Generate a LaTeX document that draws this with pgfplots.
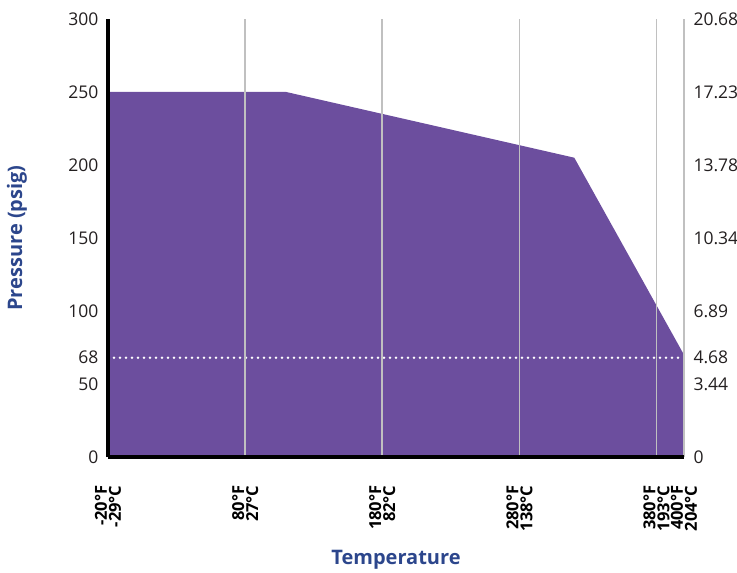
\documentclass[border=0pt]{standalone}
\usepackage{fontspec}
\setmainfont{Open Sans}
\usepackage{pgfplots}
\pgfplotsset{compat=1.18}

\definecolor{fillpurple}{RGB}{108,78,158}
\definecolor{labelblue}{RGB}{44,70,140}
\definecolor{gridgray}{RGB}{192,192,192}
\definecolor{tickblack}{RGB}{35,31,32}

\pgfplotsset{
  pressure/.style={
    scale only axis,
    width=576bp, height=438bp,
    xmin=-20, xmax=400, ymin=0, ymax=300,
    major tick length=0pt,
    /pgf/number format/assume math mode=true,
    yticklabel style={font=\fontsize{17.5bp}{19bp}\selectfont, text=tickblack},
  },
}

\begin{document}
\begin{tikzpicture}
\useasboundingbox (-108bp,-116bp) rectangle (629bp,457bp);

% main chart: allowable pressure vs temperature
\begin{axis}[
  pressure,
  axis x line*=bottom, axis y line*=left,
  axis line style={-, line width=4bp, black},
  xtick={-20,80,180,280,380,400},
  xticklabels={-20°F\\-29°C, 80°F\\27°C, 180°F\\82°C, 280°F\\138°C, 380°F\\193°C, 400°F\\204°C},
  xticklabel style={rotate=90, anchor=east, align=right,
    font=\bfseries\fontsize{16.5bp}{14bp}\selectfont, text=black},
  xticklabel shift=25bp,
  ytick={0,50,68,100,150,200,250,300},
  yticklabels={0,50,68,100,150,200,250,300},
  yticklabel shift=6bp,
  xmajorgrids,
  major grid style={gridgray, line width=1.6bp},
  axis on top,
  xlabel={Temperature},
  ylabel={Pressure (psig)},
  label style={font=\bfseries\fontsize{20bp}{24bp}\selectfont, text=labelblue},
  xlabel style={at={(axis description cs:0.5,-0.235)}, anchor=center},
  ylabel style={at={(axis description cs:-0.158,0.5)}, anchor=center},
]
  % rating curve
  \addplot [fill=fillpurple, draw=none]
    coordinates {(-20,250) (110,250) (320,205) (400,70)} \closedcycle;

  % 68 psig line
  \addplot [white, line width=2.6bp, line cap=round, dash pattern=on 0pt off 6bp]
    coordinates {(-20,68) (400,68)};
\end{axis}

% bar (metric) scale on the right
\begin{axis}[
  pressure,
  hide x axis,
  axis y line*=right,
  y axis line style={draw=none},
  ytick={0,50,68,100,150,200,250,300},
  yticklabels={0,3.44,4.68,6.89,10.34,13.78,17.23,20.68},
  yticklabel shift=6bp,
]
  \addplot [draw=none] coordinates {(-20,0) (400,300)};
\end{axis}
\end{tikzpicture}
\end{document}
